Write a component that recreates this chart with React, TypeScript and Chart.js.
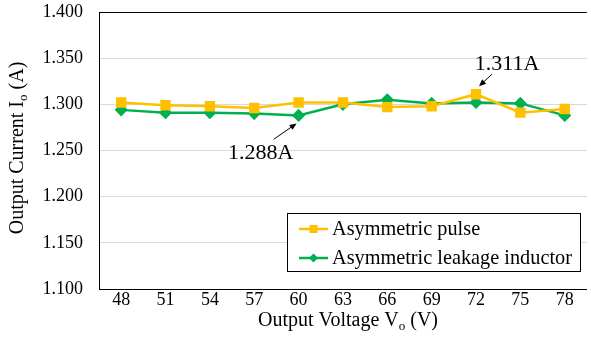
import React, { useEffect, useRef } from "react";
import { Chart, registerables } from "chart.js";

Chart.register(...registerables);

const categories = ["48", "51", "54", "57", "60", "63", "66", "69", "72", "75", "78"];
const pulseValues = [1.302, 1.299, 1.298, 1.296, 1.302, 1.302, 1.297, 1.298, 1.311, 1.291, 1.295];
const leakageValues = [1.294, 1.291, 1.291, 1.290, 1.288, 1.300, 1.305, 1.301, 1.302, 1.301, 1.288];
const seriesNames = ["Asymmetric pulse", "Asymmetric leakage inductor"];
const seriesColors = ["#FFC000", "#00B050"];
const yTicks = [1.1, 1.15, 1.2, 1.25, 1.3, 1.35, 1.4];
const annotations = [
  { index: 4, value: 1.288, label: "1.288A", dx: -38, dy: 38, hx: -2, hy: 8, tx: -22, ty: 24 },
  { index: 8, value: 1.311, label: "1.311A", dx: 31, dy: -30, hx: 3, hy: -8, tx: 19, ty: -20 },
];

const FONT = "'Liberation Serif', 'Times New Roman', serif";

function drawSubText(ctx: CanvasRenderingContext2D, parts: [string, boolean][], cx: number, cy: number, size: number) {
  const subSize = Math.round(size * 0.65);
  let total = 0;
  const widths = parts.map(([t, sub]) => {
    ctx.font = `${sub ? subSize : size}px ${FONT}`;
    const w = ctx.measureText(t).width;
    total += w;
    return w;
  });
  let x = cx - total / 2;
  ctx.textBaseline = "middle";
  ctx.textAlign = "left";
  parts.forEach(([t, sub], i) => {
    ctx.font = `${sub ? subSize : size}px ${FONT}`;
    ctx.fillText(t, x, sub ? cy + size * 0.3 : cy);
    x += widths[i];
  });
}

function arrow(ctx: CanvasRenderingContext2D, x1: number, y1: number, x2: number, y2: number) {
  const ang = Math.atan2(y2 - y1, x2 - x1);
  const len = 7, half = 3;
  ctx.strokeStyle = "#000";
  ctx.fillStyle = "#000";
  ctx.lineWidth = 1;
  ctx.beginPath();
  ctx.moveTo(x1, y1);
  ctx.lineTo(x2 - Math.cos(ang) * len * 0.8, y2 - Math.sin(ang) * len * 0.8);
  ctx.stroke();
  ctx.beginPath();
  ctx.moveTo(x2, y2);
  ctx.lineTo(x2 - Math.cos(ang) * len - Math.sin(ang) * half, y2 - Math.sin(ang) * len + Math.cos(ang) * half);
  ctx.lineTo(x2 - Math.cos(ang) * len + Math.sin(ang) * half, y2 - Math.sin(ang) * len - Math.cos(ang) * half);
  ctx.closePath();
  ctx.fill();
}

const decorPlugin = {
  id: "decor",
  afterDraw(chart: any) {
    const ctx: CanvasRenderingContext2D = chart.ctx;
    const xs = chart.scales.x;
    const ys = chart.scales.y;
    ctx.save();
    ctx.fillStyle = "#000";
    // axis titles
    drawSubText(ctx, [["Output Voltage V", false], ["o", true], [" (V)", false]], 348, 321, 20);
    ctx.save();
    ctx.translate(18, 148);
    ctx.rotate(-Math.PI / 2);
    ctx.fillStyle = "#000";
    drawSubText(ctx, [["Output Current I", false], ["o", true], [" (A)", false]], 0, 0, 20);
    ctx.restore();

    // annotations
    annotations.forEach((a) => {
      const px = xs.getPixelForValue(a.index);
      const py = ys.getPixelForValue(a.value);
      arrow(ctx, px + a.tx - 3, py + a.ty, px + a.hx, py + a.hy);
      ctx.fillStyle = "#000";
      ctx.font = `22px ${FONT}`;
      ctx.textAlign = "center";
      ctx.textBaseline = "middle";
      ctx.fillText(a.label, px + a.dx, py + a.dy);
    });

    // legend
    const lx = 287.5, ly = 213.5, lw = 293, lh = 58;
    ctx.fillStyle = "#fff";
    ctx.fillRect(lx, ly, lw, lh);
    ctx.strokeStyle = "#000";
    ctx.lineWidth = 1;
    ctx.strokeRect(lx, ly, lw, lh);
    const rows = [229, 258];
    chart.data.datasets.forEach((ds: any, i: number) => {
      const y = rows[i];
      ctx.strokeStyle = ds.borderColor;
      ctx.lineWidth = 2.5;
      ctx.beginPath();
      ctx.moveTo(299, y);
      ctx.lineTo(328, y);
      ctx.stroke();
      ctx.fillStyle = ds.backgroundColor;
      if (i === 0) {
        ctx.fillRect(313.5 - 4, y - 4, 8, 8);
      } else {
        ctx.beginPath();
        ctx.moveTo(313.5, y - 4.5);
        ctx.lineTo(318, y);
        ctx.lineTo(313.5, y + 4.5);
        ctx.lineTo(309, y);
        ctx.closePath();
        ctx.fill();
      }
      ctx.fillStyle = "#000";
      ctx.font = `20.3px ${FONT}`;
      ctx.textAlign = "left";
      ctx.textBaseline = "middle";
      ctx.fillText(ds.label, 332, y + 1);
    });
    ctx.restore();
  },
};

export default function App() {
  const ref = useRef<HTMLCanvasElement>(null);
  useEffect(() => {
    if (!ref.current) return;
    const chart = new Chart(ref.current, {
      type: "line",
      data: {
        labels: categories,
        datasets: [
          {
            label: seriesNames[0],
            data: pulseValues,
            borderColor: seriesColors[0],
            backgroundColor: seriesColors[0],
            borderWidth: 2.5,
            pointStyle: "rect",
            pointRadius: 5.6,
            pointHoverRadius: 5.6,
          },
          {
            label: seriesNames[1],
            data: leakageValues,
            borderColor: seriesColors[1],
            backgroundColor: seriesColors[1],
            borderWidth: 2.5,
            pointStyle: "rectRot",
            pointRadius: 4.8,
            pointHoverRadius: 4.8,
          },
        ],
      },
      options: {
        animation: false,
        responsive: false,
        devicePixelRatio: 1,
        layout: { padding: { top: 12, left: 0, right: 0, bottom: 0 } },
        plugins: { legend: { display: false }, tooltip: { enabled: false } },
        scales: {
          x: {
            type: "category",
            offset: true,
            grid: { display: true, drawOnChartArea: false, drawTicks: false },
            border: { display: true, color: "#000", width: 1 },
            ticks: { color: "#000", font: { family: FONT, size: 18 }, padding: 0, maxRotation: 0 },
            afterFit: (s: any) => {
              s.height = 60;
              s.paddingLeft = 0;
              s.paddingRight = 0;
              s.paddingTop = 0;
              s.paddingBottom = 0;
            },
          },
          y: {
            min: yTicks[0],
            max: yTicks[yTicks.length - 1],
            afterBuildTicks: (s: any) => { s.ticks = yTicks.map((v) => ({ value: v })); },
            grid: {
              color: (c: any) => (c.tick && Math.abs(c.tick.value - 1.4) < 1e-9 ? "#000" : "#D9D9D9"),
              lineWidth: 1,
              drawTicks: false,
            },
            border: { display: true, color: "#000", width: 1 },
            ticks: {
              color: "#000",
              font: { family: FONT, size: 18 },
              padding: 16,
              callback: (v: any) => Number(v).toFixed(3),
            },
            afterFit: (s: any) => {
              s.width = 99;
              s.paddingTop = 0;
              s.paddingBottom = 0;
              s.paddingLeft = 0;
              s.paddingRight = 0;
            },
          },
        },
      },
      plugins: [decorPlugin],
    });
    return () => chart.destroy();
  }, []);
  return (
    <div style={{ position: "fixed", left: 0, top: 0, width: 591, height: 349, overflow: "hidden", background: "#fff" }}>
      <canvas ref={ref} width={595} height={349} style={{ width: 595, height: 349, display: "block" }} />
    </div>
  );
}
